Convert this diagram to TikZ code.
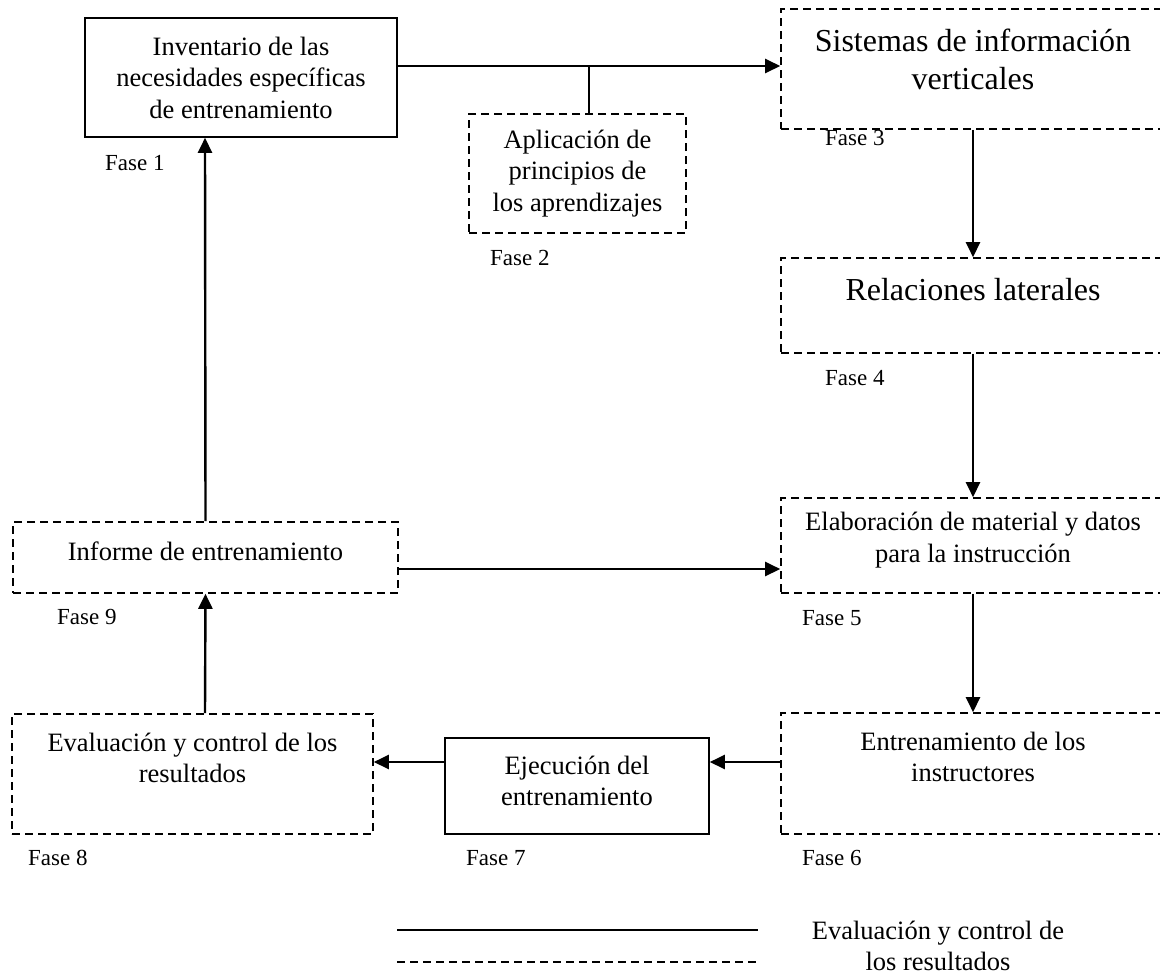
\documentclass[tikz,border=0pt]{standalone}
\usepackage{fontspec}
\setmainfont{Liberation Serif}
\usetikzlibrary{arrows.meta}
\tikzset{
  solidbox/.style={draw, line width=1.6pt, inner sep=0pt},
  dashbox/.style={draw, line width=1.6pt, inner sep=0pt, dash pattern=on 8pt off 5pt},
  maintext/.style={align=center, inner sep=0pt, font=\fontsize{26.5}{31.5}\selectfont},
  bigtext/.style={align=center, inner sep=0pt, font=\fontsize{32}{38}\selectfont},
  fasetext/.style={anchor=west, inner sep=0pt, font=\fontsize{23}{27}\selectfont},
  flow/.style={line width=2.4pt, -{Triangle[length=15pt,width=14pt]}},
  thinlink/.style={line width=1.5pt},
  legsolid/.style={line width=2.2pt},
  legdash/.style={line width=1.6pt, dash pattern=on 8pt off 5pt}
}
\begin{document}
\begin{tikzpicture}[x=1pt,y=-1pt]
\useasboundingbox (0,0) rectangle (1160,975);
\clip (0,0) rectangle (1160,975);
% boxes
\node[solidbox, maintext, minimum width=312pt, minimum height=119pt] (b1) at (241,77.5)
  {Inventario de las\\necesidades específicas\\de entrenamiento};
\node[dashbox, maintext, minimum width=217pt, minimum height=119pt] (b2) at (577.5,173.5)
  {Aplicación de\\principios de\\los aprendizajes};
\node[dashbox, minimum width=384pt, minimum height=120pt] (b3) at (973,69) {};
\node[bigtext] (t3) at (973,59) {Sistemas de información\\verticales};
\node[dashbox, minimum width=384pt, minimum height=95pt] (b4) at (973,305.5) {};
\node[bigtext] (t4) at (973,290) {Relaciones laterales};
\node[dashbox, minimum width=384pt, minimum height=95pt] (b5) at (973,545.5) {};
\node[maintext] (t5) at (973,540) {Elaboración de material y datos\\para la instrucción};
\node[dashbox, minimum width=384pt, minimum height=121pt] (b6) at (973,773.5) {};
\node[maintext] (t6) at (973,757) {Entrenamiento de los\\instructores};
\node[solidbox, minimum width=264pt, minimum height=96pt] (b7) at (577,786) {};
\node[maintext] (t7) at (577,781) {Ejecución del\\entrenamiento};
\node[dashbox, minimum width=361pt, minimum height=120pt] (b8) at (192.5,774) {};
\node[maintext] (t8) at (192.5,758) {Evaluación y control de los\\resultados};
\node[dashbox, minimum width=385pt, minimum height=71pt] (b9) at (205.5,557.5) {};
\node[maintext] (t9) at (205.5,551) {Informe de entrenamiento};
% phase labels
\node[fasetext] (f1) at (105,163) {Fase 1};
\node[fasetext] (f2) at (490,258) {Fase 2};
\node[fasetext] (f3) at (825,138) {Fase 3};
\node[fasetext] (f4) at (825,378) {Fase 4};
\node[fasetext] (f5) at (802,618) {Fase 5};
\node[fasetext] (f6) at (802,858) {Fase 6};
\node[fasetext] (f7) at (466,858) {Fase 7};
\node[fasetext] (f8) at (28,858) {Fase 8};
\node[fasetext] (f9) at (57,617) {Fase 9};
% connectors
\draw[flow] ([yshift=11.5pt]b1.east) -- ([yshift=3pt]b3.west);
\coordinate (br) at (589,66);
\draw[thinlink] (br) -- (br |- b2.north);
\draw[flow] (b3.south) -- (b4.north);
\draw[flow] (b4.south) -- (b5.north);
\draw[flow] (b5.south) -- (b6.north);
\draw[flow] ([yshift=11.5pt]b6.west) -- ([yshift=24pt]b7.east);
\draw[flow] ([yshift=24pt]b7.west) -- ([yshift=12pt]b8.east);
\draw[flow] ([xshift=12.5pt]b8.north) -- (b9.south);
\draw[flow] (b9.north) -- ([xshift=-36pt]b1.south);
\draw[flow] ([yshift=-11.5pt]b9.east) -- ([yshift=-23.5pt]b5.west);
% legend
\coordinate (la) at (397,930);
\coordinate (lb) at (758,930);
\coordinate (lc) at (397,962);
\coordinate (ld) at (758,962);
\draw[legsolid] (la) -- (lb);
\draw[legdash] (lc) -- (ld);
\node[maintext] (lt) at (938,946) {Evaluación y control de\\los resultados};
\end{tikzpicture}
\end{document}
